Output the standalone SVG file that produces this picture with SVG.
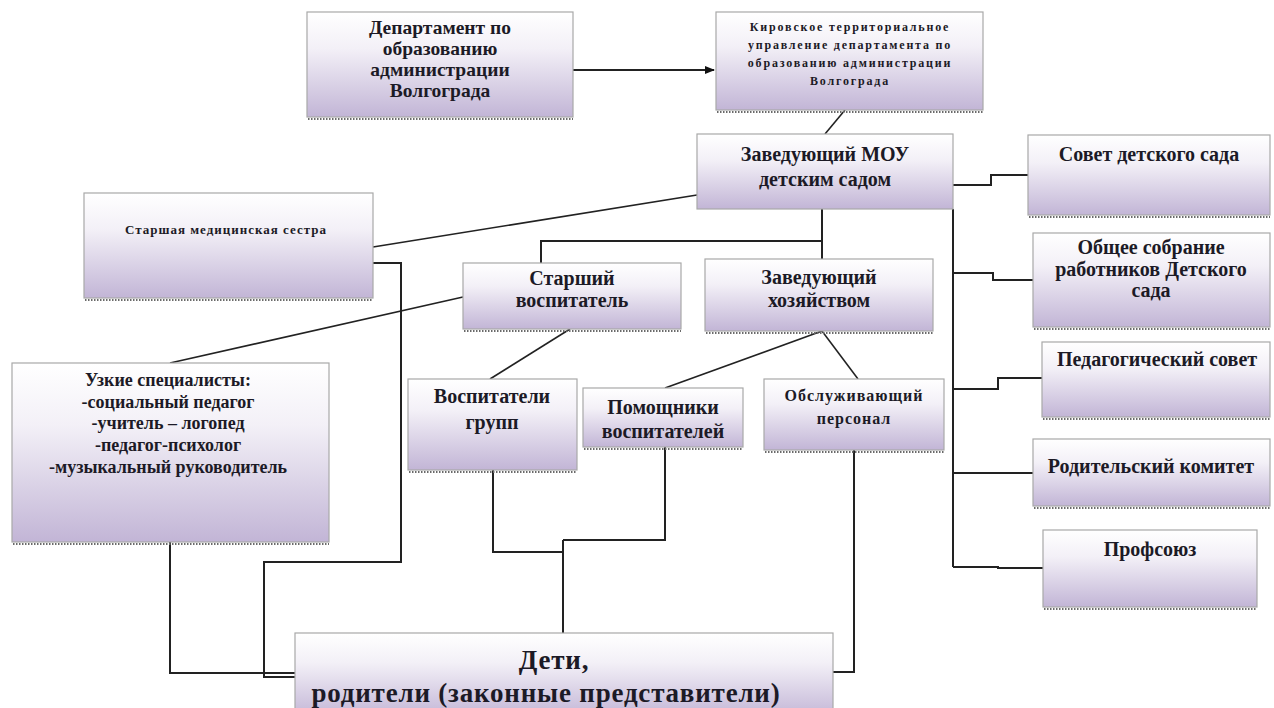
<svg xmlns="http://www.w3.org/2000/svg" width="1274" height="708" viewBox="0 0 1274 708">
<defs>
<linearGradient id="g" x1="0" y1="0" x2="0" y2="1">
<stop offset="0" stop-color="#ffffff"/>
<stop offset="0.35" stop-color="#f3f0f7"/>
<stop offset="1" stop-color="#c2b5d6"/>
</linearGradient>
<marker id="arr" markerWidth="10" markerHeight="10" refX="9" refY="5" orient="auto" markerUnits="userSpaceOnUse">
<path d="M0,1 L10,5 L0,9 z" fill="#111"/>
</marker>
</defs>
<style>
.box{fill:url(#g);stroke:#a8a8a8;stroke-width:1.2}
.sh{stroke:#6a6a6a;stroke-width:2;stroke-dasharray:1.5 1.5}
text{font-family:"Liberation Serif","DejaVu Serif",serif;font-weight:bold;fill:#1c1a26;text-anchor:middle}
.t18{font-size:18px}
.t19{font-size:19.5px}
.t20{font-size:20px}
.t12{font-size:12px;letter-spacing:1.8px}
.t13{font-size:13px;letter-spacing:1px}
.t15{font-size:16px;letter-spacing:1px}
.t24{font-size:27px;letter-spacing:0.8px}
.c{fill:none;stroke:#222;stroke-width:2}
.d{fill:none;stroke:#222;stroke-width:1.6}
</style>
<rect width="1274" height="708" fill="#ffffff"/>

<g id="connectors">
<line class="c" x1="573" y1="70" x2="714" y2="70" marker-end="url(#arr)"/>
<line class="d" x1="845" y1="110" x2="825" y2="134"/>
<path class="c" d="M822,209 V241 M541,263 V241 H822 V259"/>
<line class="d" x1="373" y1="247" x2="697" y2="195"/>
<path class="c" d="M373,263 H401 V562 H264 V677 H295"/>
<line class="d" x1="170" y1="363" x2="463" y2="297"/>
<path class="c" d="M170,542 V673 H295"/>
<line class="d" x1="570" y1="329" x2="490" y2="379"/>
<line class="d" x1="822" y1="331" x2="665" y2="388"/>
<line class="d" x1="822" y1="331" x2="858" y2="379"/>
<path class="c" d="M493,470 V552 H563 M665,447 V540 H563 M563,540 V633"/>
<path class="c" d="M854,450 V672 H833"/>
<path class="c" d="M953,209 V567 M953,185 H991 V175 H1028 M953,273 H993 V280 H1033 M953,389 H998 V378 H1042 M953,473 H1033 M953,567 H998 V568 H1043"/>
</g>

<g id="n-departament">
<rect class="box" x="307" y="12" width="266" height="105"/>
<line class="sh" x1="308" y1="119" x2="573" y2="119"/>
<text class="t19" x="440" y="34">Департамент по</text>
<text class="t19" x="440" y="55">образованию</text>
<text class="t19" x="440" y="76">администрации</text>
<text class="t19" x="440" y="97">Волгограда</text>
</g>

<g id="n-kirovskoe">
<rect class="box" x="716" y="12" width="267" height="98"/>
<line class="sh" x1="717" y1="112" x2="983" y2="112"/>
<text class="t12" x="850" y="31">Кировское территориальное</text>
<text class="t12" x="850" y="49">управление департамента по</text>
<text class="t12" x="850" y="67">образованию администрации</text>
<text class="t12" x="850" y="85">Волгограда</text>
</g>

<g id="n-zaveduyushchiy">
<rect class="box" x="697" y="134" width="256" height="75"/>
<text class="t20" x="825" y="161">Заведующий МОУ</text>
<text class="t20" x="825" y="186">детским садом</text>
</g>

<g id="n-sovet">
<rect class="box" x="1028" y="135" width="242" height="80"/>
<line class="sh" x1="1029" y1="217" x2="1270" y2="217"/>
<text class="t20" x="1149" y="161">Совет детского сада</text>
</g>

<g id="n-obshchee">
<rect class="box" x="1033" y="233" width="237" height="94"/>
<line class="sh" x1="1034" y1="329" x2="1270" y2="329"/>
<text class="t20" x="1151" y="254">Общее собрание</text>
<text class="t20" x="1151" y="276">работников Детского</text>
<text class="t20" x="1151" y="297">сада</text>
</g>

<g id="n-pedsovet">
<rect class="box" x="1042" y="342" width="228" height="75"/>
<line class="sh" x1="1043" y1="419" x2="1270" y2="419"/>
<text class="t20" x="1157" y="366">Педагогический совет</text>
</g>

<g id="n-roditelskiy">
<rect class="box" x="1033" y="439" width="237" height="67"/>
<line class="sh" x1="1034" y1="508" x2="1270" y2="508"/>
<text class="t20" x="1151" y="473">Родительский комитет</text>
</g>

<g id="n-profsoyuz">
<rect class="box" x="1043" y="530" width="214" height="77"/>
<line class="sh" x1="1044" y1="609" x2="1257" y2="609"/>
<text class="t20" x="1150" y="556">Профсоюз</text>
</g>

<g id="n-medsestra">
<rect class="box" x="84" y="193" width="289" height="105"/>
<line class="sh" x1="85" y1="300" x2="373" y2="300"/>
<text class="t13" x="226" y="234">Старшая медицинская сестра</text>
</g>

<g id="n-starshiy">
<rect class="box" x="463" y="263" width="218" height="66"/>
<line class="sh" x1="464" y1="331" x2="681" y2="331"/>
<text class="t20" x="572" y="285">Старший</text>
<text class="t20" x="572" y="307">воспитатель</text>
</g>

<g id="n-zavhoz">
<rect class="box" x="705" y="259" width="228" height="72"/>
<line class="sh" x1="706" y1="333" x2="933" y2="333"/>
<text class="t20" x="819" y="284">Заведующий</text>
<text class="t20" x="819" y="307">хозяйством</text>
</g>

<g id="n-uzkie">
<rect class="box" x="12" y="363" width="317" height="179"/>
<line class="sh" x1="13" y1="544" x2="329" y2="544"/>
<text class="t18" x="168" y="386">Узкие  специалисты:</text>
<text class="t18" x="168" y="408">-социальный педагог</text>
<text class="t18" x="168" y="429">-учитель – логопед</text>
<text class="t18" x="168" y="451">-педагог-психолог</text>
<text class="t18" x="168" y="473">-музыкальный руководитель</text>
</g>

<g id="n-vospitateli">
<rect class="box" x="408" y="379" width="169" height="91"/>
<line class="sh" x1="409" y1="472" x2="577" y2="472"/>
<text class="t20" x="492" y="403">Воспитатели</text>
<text class="t20" x="492" y="429">групп</text>
</g>

<g id="n-pomoshchniki">
<rect class="box" x="583" y="388" width="160" height="59"/>
<line class="sh" x1="584" y1="449" x2="743" y2="449"/>
<text class="t20" x="663" y="414">Помощники</text>
<text class="t20" x="663" y="438">воспитателей</text>
</g>

<g id="n-obsluzh">
<rect class="box" x="764" y="379" width="180" height="71"/>
<line class="sh" x1="765" y1="452" x2="944" y2="452"/>
<text class="t15" x="854" y="401">Обслуживающий</text>
<text class="t15" x="854" y="424">персонал</text>
</g>

<g id="n-deti">
<rect class="box" x="295" y="633" width="538" height="85"/>
<text class="t24" x="554" y="669">Дети,</text>
<text class="t24" x="546" y="702">родители (законные представители)</text>
</g>
</svg>
